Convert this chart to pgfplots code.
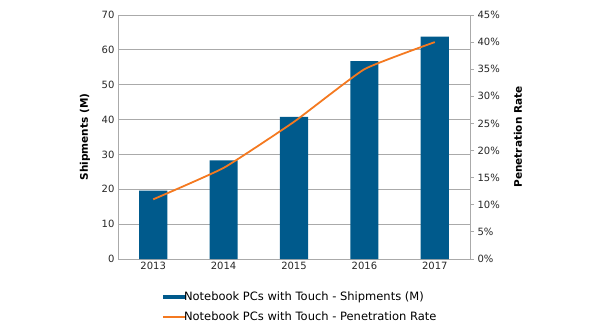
\documentclass[border=0pt]{standalone}
\usepackage{pgfplots}
\pgfplotsset{compat=1.18}
\usepackage{fontspec}
\setmainfont{DejaVu Sans}
\definecolor{barblue}{RGB}{0,90,140}
\definecolor{lineor}{RGB}{244,121,32}
\definecolor{gridg}{RGB}{170,170,170}
\begin{document}
\begin{tikzpicture}
\useasboundingbox (0pt,0pt) rectangle (600pt,330pt);
\begin{axis}[
  at={(118pt,71pt)}, anchor=south west,
  scale only axis, width=352pt, height=244pt,
  xmin=-0.5, xmax=4.5, ymin=0, ymax=70,
  xtick={0,1,2,3,4}, xticklabels={2013,2014,2015,2016,2017},
  ytick={0,10,...,70},
  ymajorgrids, major grid style={gridg, line width=0.8pt},
  axis line style={gridg, line width=0.8pt},
  axis x line*=bottom, axis y line*=left,
  tick style={draw=none},
  ticklabel style={font=\fontsize{10}{12}\selectfont, text=black!85},
  /pgf/number format/assume math mode=true,
  ylabel={\bfseries Shipments (M)},
  ylabel style={font=\fontsize{10.5}{12}\selectfont, anchor=center, at={(axis description cs:-0.094,0.5)}},
  legend style={draw=none, fill=none, at={(0.517,-0.197)}, anchor=center,
    font=\fontsize{11.5}{13}\selectfont, row sep=6pt, cells={anchor=west}, inner xsep=0pt},
  legend cell align=left,
]
\addplot[ybar, bar width=0.4, fill=barblue, draw=none, legend image code/.code={\draw[barblue, line width=3.5pt] (0pt,0pt) -- (23pt,0pt);}] coordinates {(0,19.6) (1,28.3) (2,40.8) (3,56.8) (4,63.8)};
\addlegendentry{\hspace{-6pt}Notebook PCs with Touch - Shipments (M)}
\addlegendimage{lineor, line width=2pt, legend image code/.code={\draw[lineor, line width=2pt] (0pt,0pt) -- (23pt,0pt);}}
\addlegendentry{\hspace{-6pt}Notebook PCs with Touch - Penetration Rate}
\end{axis}
\begin{axis}[
  at={(118pt,71pt)}, anchor=south west,
  scale only axis, width=352pt, height=244pt,
  xmin=-0.5, xmax=4.5, ymin=0, ymax=45,
  axis x line=none, axis y line*=right,
  ytick={0,5,...,45},
  yticklabel={\pgfmathprintnumber{\tick}\%},
  axis line style={gridg, line width=0.8pt},
  tick style={gridg, line width=0.8pt}, major tick length=4pt,
  tick align=outside,
  ticklabel style={font=\fontsize{10}{12}\selectfont, text=black!85},
  /pgf/number format/assume math mode=true,
  ylabel={\bfseries Penetration Rate},
  ylabel style={font=\fontsize{10.5}{12}\selectfont, anchor=center, at={(axis description cs:1.136,0.5)}},
]
\addplot[lineor, line width=1.8pt, smooth, tension=0.25] coordinates {(0,11) (1,16.8) (2,25.3) (3,35) (4,40)};
\end{axis}
\end{tikzpicture}
\end{document}
